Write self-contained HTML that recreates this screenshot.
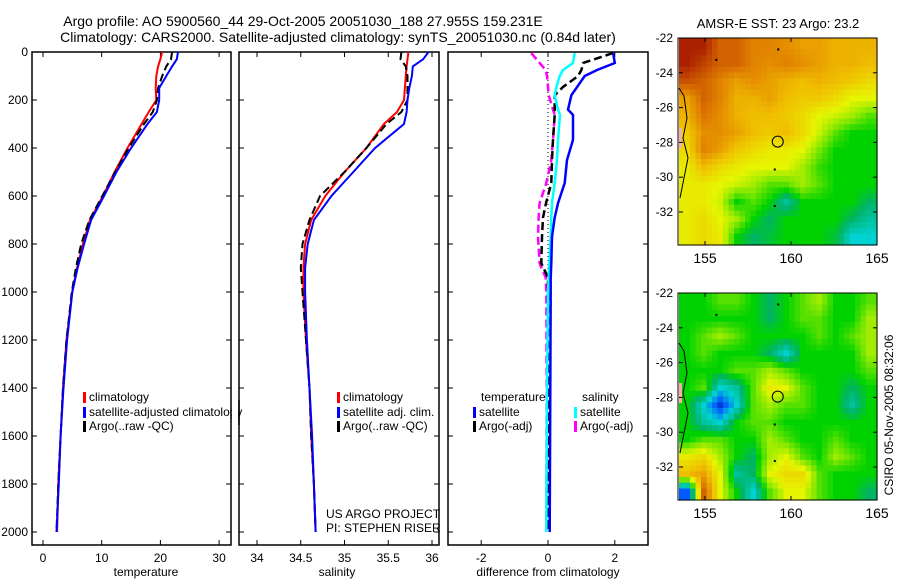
<!DOCTYPE html>
<html><head><meta charset="utf-8"><style>
body{margin:0;background:#fff;font-family:"Liberation Sans",sans-serif}
svg text{font-family:"Liberation Sans",sans-serif;font-size:12px;fill:#000}
</style></head><body>
<svg id="c" width="900" height="580" viewBox="0 0 900 580" xmlns="http://www.w3.org/2000/svg">
<text x="303" y="26" text-anchor="middle" style="font-size:14px">Argo profile: AO 5900560_44 29-Oct-2005 20051030_188 27.955S 159.231E</text>
<text x="338" y="42" text-anchor="middle" style="font-size:14px">Climatology: CARS2000. Satellite-adjusted climatology: synTS_20051030.nc (0.84d later)</text>
<text x="778" y="28" text-anchor="middle" style="font-size:13px">AMSR-E SST: 23 Argo: 23.2</text>
<text x="778" y="314" text-anchor="middle" style="font-size:13px">Altimetric SLA: 0.11 Argo: 0.037</text>
<text transform="translate(893,415) rotate(-90)" text-anchor="middle">CSIRO 05-Nov-2005 08:32:06</text>
<text x="326" y="518">US ARGO PROJECT</text>
<text x="326" y="532">PI: STEPHEN RISER</text>
</svg>
<script>
// ---- data ----
const depths=[0,30,60,100,150,200,250,300,400,500,600,700,800,900,1000,1200,1400,1600,1800,2000];
const tempClim=[20.3,20,19.6,19.3,19.2,19.3,18,16.8,14.4,12.2,10.2,8.0,6.8,5.8,5.0,4.0,3.4,3.0,2.6,2.4];
const tempSat=[23,22.8,22,21,19.8,19.8,19.4,17.8,15,12.5,10.4,8.2,7.0,5.9,5.0,4.1,3.5,3.0,2.7,2.3];
const tempArgo=[22,21.8,21,20.3,19.6,19.4,18.7,17.2,14.6,12.3,10.1,7.9,6.5,5.6,4.9,4.0,3.4,3.0,2.6,2.3];
const salClim=[35.73,35.72,35.71,35.7,35.69,35.68,35.6,35.45,35.25,35.0,34.78,34.62,34.55,34.53,34.53,34.56,34.6,34.62,34.65,34.67];
const salSat=[35.96,35.9,35.78,35.77,35.74,35.72,35.71,35.68,35.35,35.1,34.85,34.65,34.58,34.55,34.55,34.57,34.6,34.63,34.65,34.67];
const salArgo=[35.65,35.64,35.7,35.72,35.72,35.72,35.65,35.48,35.25,35.0,34.72,34.6,34.52,34.5,34.52,34.56,34.6,34.62,34.65,34.67];
const diffDepths=[4,46,75,100,146,180,240,262,366,450,546,630,690,770,880,940,1000,1400,2000];
const dTempSat=[1.95,2.0,1.47,1.1,0.87,0.7,0.6,0.75,0.75,0.57,0.5,0.3,0.2,0.12,0.1,0.08,0.08,0.07,0.05];
const dSalSat=[0.8,0.75,0.45,0.35,0.25,0.2,0.3,0.36,0.3,0.27,0.2,0.12,0.1,0.08,0.04,0.02,0.0,-0.03,-0.05];
const dTempArgo=[1.95,1.05,1.0,0.9,0.45,0.2,0.2,0.2,0.15,0.12,0.1,-0.06,-0.15,-0.18,-0.2,0,0.0,0.0,0.0];
const dSalArgo=[-0.5,-0.25,-0.07,-0.03,0.0,0.02,0.15,0.2,0.15,0.1,-0.05,-0.25,-0.28,-0.3,-0.25,-0.07,-0.05,-0.04,-0.05];
const depthTicks=[0,200,400,600,800,1000,1200,1400,1600,1800,2000];
const tempTicks=[0,10,20,30];
const salTicks=[34,34.5,35,35.5,36];
const diffTicks=[-2,0,2];
const latTicks=[-22,-24,-26,-28,-30,-32];
const lonTicks=[155,160,165];
const sstGrid=[
[.95,.95,.85,.85,.8,.8,.78,.75,.75,.72,.72,.72],
[.95,.9,.85,.85,.8,.78,.8,.78,.75,.72,.72,.7],
[.88,.85,.8,.75,.78,.75,.72,.7,.72,.7,.68,.65],
[.75,.85,.8,.72,.72,.75,.7,.68,.68,.65,.6,.6],
[.72,.82,.78,.72,.7,.7,.68,.65,.6,.58,.55,.5],
[.68,.78,.78,.75,.7,.68,.7,.65,.58,.5,.45,.45],
[.65,.8,.75,.68,.65,.62,.62,.6,.52,.45,.45,.45],
[.62,.7,.65,.62,.6,.6,.6,.55,.48,.45,.45,.45],
[.62,.62,.6,.58,.55,.5,.5,.55,.5,.45,.45,.45],
[.62,.62,.58,.45,.5,.45,.35,.45,.45,.45,.45,.4],
[.62,.65,.6,.55,.45,.4,.45,.45,.45,.45,.4,.35],
[.62,.65,.62,.45,.4,.42,.45,.45,.45,.42,.3,.3]];
const slaGrid=[
[.45,.45,.5,.5,.45,.4,.45,.5,.55,.45,.45,.5],
[.45,.45,.45,.45,.45,.4,.45,.5,.5,.45,.45,.55],
[.45,.5,.55,.5,.45,.45,.45,.45,.5,.45,.5,.55],
[.45,.5,.45,.45,.45,.4,.3,.45,.45,.45,.45,.55],
[.45,.45,.45,.5,.5,.55,.5,.45,.45,.45,.45,.5],
[.45,.5,.3,.35,.5,.62,.6,.5,.45,.45,.4,.45],
[.45,.3,.1,.3,.5,.55,.5,.5,.45,.45,.35,.45],
[.45,.35,.3,.45,.5,.5,.45,.45,.45,.45,.45,.45],
[.45,.5,.5,.45,.45,.55,.5,.45,.45,.5,.45,.45],
[.62,.65,.55,.45,.4,.55,.6,.5,.45,.55,.5,.45],
[.7,.75,.6,.35,.4,.6,.65,.65,.5,.45,.45,.45],
[.15,.85,.6,.45,.3,.5,.6,.6,.5,.45,.45,.4]];
// ---- drawing ----
const NS='http://www.w3.org/2000/svg', svg=document.getElementById('c');
function el(t,a,p){const e=document.createElementNS(NS,t);for(const k in a)e.setAttribute(k,a[k]);(p||svg).appendChild(e);return e;}
const yD=d=>52+d*0.24;
const panels=[
 {x0:32,x1:231,f:v=>43+v*5.87,ticks:tempTicks,label:'temperature',name:'temperature-panel',lx:146},
 {x0:239,x1:439,f:v=>257+(v-34)*87.5,ticks:salTicks,label:'salinity',name:'salinity-panel',lx:337},
 {x0:448,x1:648,f:v=>548+v*33.4,ticks:diffTicks,label:'difference from climatology',name:'difference-panel',lx:548}];
panels.forEach((p,i)=>{
 const g=el('g',{});
 
 
 const r=el('rect',{x:p.x0,y:52,width:p.x1-p.x0,height:493,fill:'none',stroke:'#000','stroke-width':1.5},g);
 
 
 p.ticks.forEach(t=>{const x=p.f(t);
  el('line',{x1:x,x2:x,y1:545,y2:540,stroke:'#000'},g);el('line',{x1:x,x2:x,y1:52,y2:57,stroke:'#000'},g);
  const tx=el('text',{x:x,y:562,'text-anchor':'middle'},g);tx.textContent=t;
  
  });
 const xl=el('text',{x:p.lx,y:576,'text-anchor':'middle'},g);xl.textContent=p.label;
 
 
 depthTicks.forEach(d=>{const y=yD(d);
  el('line',{x1:p.x0,x2:p.x0+5,y1:y,y2:y,stroke:'#000'},g);el('line',{x1:p.x1,x2:p.x1-5,y1:y,y2:y,stroke:'#000'},g);
  if(i==0){const t=el('text',{x:28,y:y+4,'text-anchor':'end'},g);t.textContent=d;
   
   }});
});
function line(xs,ds,f,color,dash,name,w){
 const pts=xs.map((v,i)=>f(v).toFixed(1)+','+yD(ds[i]).toFixed(1)).join(' ');
 const e=el('polyline',{points:pts,fill:'none',stroke:color,'stroke-width':w||2,'stroke-dasharray':dash||'none'});
 
 
}
const P=panels;
line(tempClim,depths,P[0].f,'#f00',null,'temp-climatology-line');
line(tempArgo,depths,P[0].f,'#000','8,4','temp-argo-line');
line(tempSat,depths,P[0].f,'#00f',null,'temp-satellite-line');
line(salClim,depths,P[1].f,'#f00',null,'sal-climatology-line');
line(salArgo,depths,P[1].f,'#000','8,4','sal-argo-line');
line(salSat,depths,P[1].f,'#00f',null,'sal-satellite-line');
el('line',{x1:548,x2:548,y1:52,y2:532,stroke:'#000','stroke-dasharray':'1,3'});
line(dSalArgo,diffDepths,P[2].f,'#f0f','8,4','sal-argo-diff-line',2.5);
line(dTempArgo,diffDepths,P[2].f,'#000','8,4','temp-argo-diff-line',2.5);
line(dSalSat,diffDepths,P[2].f,'#0ff',null,'sal-satellite-diff-line',2.5);
line(dTempSat,diffDepths,P[2].f,'#00f',null,'temp-satellite-diff-line',2.5);
// legends
function leg(x,y,color,text,name){
 el('rect',{x:x,y:y-9,width:3,height:11,fill:color});
 const t=el('text',{x:x+6,y:y});t.textContent=text;
 
 
}
leg(83,401,'#f00','climatology','legend-climatology');
leg(83,416,'#00f','satellite-adjusted climatology','legend-satellite');
leg(83,430,'#000','Argo(..raw -QC)','legend-argo');
el('rect',{x:232,y:405,width:6,height:14,fill:'#fff'});
el('line',{x1:239,x2:239,y1:400,y2:425,stroke:'#000','stroke-width':1.5});
leg(337,401,'#f00','climatology','legend-sal-climatology');
leg(337,416,'#00f','satellite adj. clim.','legend-sal-satellite');
leg(337,430,'#000','Argo(..raw -QC)','legend-sal-argo');
let h=el('text',{x:481,y:401});h.textContent='temperature';


h=el('text',{x:582,y:401});h.textContent='salinity';


leg(473,416,'#00f','satellite','legend-temp-satellite');
leg(473,430,'#000','Argo(-adj)','legend-temp-argo');
leg(574,416,'#0ff','satellite','legend-sal-satellite-diff');
leg(574,430,'#f0f','Argo(-adj)','legend-sal-argo-diff');
// maps
const stops=[[0,[0,0,140]],[.15,[0,90,255]],[.3,[0,210,210]],[.4,[0,180,100]],[.45,[0,210,0]],[.52,[120,230,0]],[.6,[230,245,0]],[.7,[240,190,0]],[.8,[225,130,0]],[.88,[200,80,0]],[1,[150,0,0]]];
function cmap(v){for(let i=1;i<stops.length;i++){if(v<=stops[i][0]){const a=stops[i-1],b=stops[i],t=(v-a[0])/(b[0]-a[0]);return 'rgb('+a[1].map((c,k)=>Math.round(c+(b[1][k]-c)*t)).join(',')+')';}}return 'rgb(150,0,0)';}
function sample(grid,fr,fc){
 const R=grid.length-1,C=grid[0].length-1;
 fr=Math.max(0,Math.min(R,fr));fc=Math.max(0,Math.min(C,fc));
 const r0=Math.floor(fr),c0=Math.floor(fc),r1=Math.min(R,r0+1),c1=Math.min(C,c0+1),tr=fr-r0,tc=fc-c0;
 return (grid[r0][c0]*(1-tc)+grid[r0][c1]*tc)*(1-tr)+(grid[r1][c0]*(1-tc)+grid[r1][c1]*tc)*tr;
}
function map(top,grid,name){
 const x0=679,x1=877,y1=top+207;
 const lonX=l=>705+(l-155)*17.2, latY=l=>top+(-22-l)*17.4;
 const g=el('g',{});
 
 
 const rows=grid.length,cols=grid[0].length,S=3,cw=(x1-x0)/(cols*S),ch=(y1-top)/(rows*S);
 for(let r=0;r<rows*S;r++)for(let c=0;c<cols*S;c++){
  const v=sample(grid,(r+0.5)/S-0.5,(c+0.5)/S-0.5);
  const cell=el('rect',{x:(x0+c*cw).toFixed(1),y:(top+r*ch).toFixed(1),width:(cw+0.6).toFixed(1),height:(ch+0.6).toFixed(1),fill:cmap(v)},g);
  
  }
 el('path',{d:`M${x0},${top+50} L684,${top+58} L687,${top+80} L683,${top+100} L688,${top+120} L684,${top+140} L680,${top+160}`,fill:'none',stroke:'#000','stroke-width':1},g);
 el('rect',{x:x0,y:top+90,width:3,height:20,fill:'#f4b0a0'},g);
 el('rect',{x:x0-1,y:top,width:x1-x0+1,height:207,fill:'none',stroke:'#000','stroke-width':1},g);
 const circ=el('circle',{cx:lonX(159.23),cy:latY(-27.955),r:5.5,fill:'none',stroke:'#000','stroke-width':1},g);
 
 
 [[159.2,-22.6],[155.6,-23.2],[159.0,-29.5],[159.0,-31.6]].forEach(p=>el('rect',{x:lonX(p[0]),y:latY(p[1]),width:2,height:2,fill:'#000'},g));
 latTicks.forEach(l=>{const y=latY(l);el('line',{x1:x0,x2:x0+4,y1:y,y2:y,stroke:'#000'},g);el('line',{x1:x1,x2:x1-4,y1:y,y2:y,stroke:'#000'},g);
  const t=el('text',{x:673,y:y+4,'text-anchor':'end'},g);t.textContent=l;
  
  });
 lonTicks.forEach(l=>{const x=lonX(l);el('line',{x1:x,x2:x,y1:y1,y2:y1-4,stroke:'#000'},g);el('line',{x1:x,x2:x,y1:top,y2:top+4,stroke:'#000'},g);
  const t=el('text',{x:x,y:y1+18,'text-anchor':'middle',style:'font-size:14px'},g);t.textContent=l;
  
  });
}
map(38,sstGrid,'sst-map');
map(293,slaGrid,'sla-map');
</script>
</body></html>
